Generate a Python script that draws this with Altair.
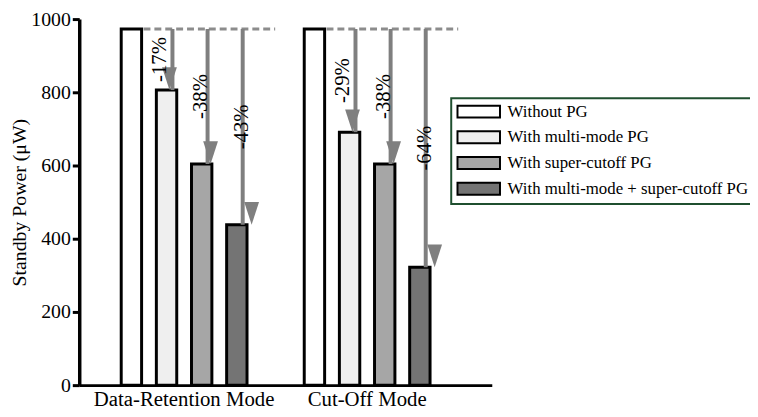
import altair as alt
import pandas as pd

groups = ["Data-Retention Mode", "Cut-Off Mode"]
series = ["Without PG", "With multi-mode PG", "With super-cutoff PG",
          "With multi-mode + super-cutoff PG"]
retention_values = [973, 806, 604, 438]
cutoff_values = [973, 691, 604, 322]
retention_labels = ["", "-17%", "-38%", "-43%"]
cutoff_labels = ["", "-29%", "-38%", "-64%"]
fill_colors = ["#ffffff", "#efefef", "#a6a6a6", "#747474"]

rows = []
for g, vals, labs in [(groups[0], retention_values, retention_labels),
                      (groups[1], cutoff_values, cutoff_labels)]:
    for s, v, l in zip(series, vals, labs):
        rows.append({"group": g, "series": s, "value": v, "base": vals[0], "label": l})
df = pd.DataFrame(rows)

FONT = "Liberation Serif"
ARROW = "#7f7f7f"

x_scale = alt.Scale(paddingInner=0.232, paddingOuter=0.243, align=0.389)
x_enc = alt.X("group:N", sort=groups, title=None, scale=x_scale,
              axis=alt.Axis(labelAngle=0, ticks=False, domainWidth=3, domainColor="black",
                            labelFont=FONT, labelFontSize=21, labelColor="black",
                            labelPadding=4, labelLimit=400))
off_scale = alt.Scale(domain=series, paddingInner=0.42, paddingOuter=0.21)
arrow_off_scale = alt.Scale(domain=series, paddingInner=0.42, paddingOuter=0.21,
                            range=[6, 148])
y_enc = alt.Y("value:Q", scale=alt.Scale(domain=[0, 1000], nice=False),
              axis=alt.Axis(values=[0, 200, 400, 600, 800, 1000], grid=False, format="d",
                            tickSize=7, tickWidth=3, tickColor="black",
                            domainWidth=3.5, domainColor="black",
                            labelFont=FONT, labelFontSize=20, labelColor="black",
                            labelPadding=2,
                            title="Standby Power (μW)", titleFont=FONT,
                            titleFontSize=20, titleFontWeight="normal",
                            titleColor="black", titlePadding=1))

bars = alt.Chart(df).mark_bar(stroke="black", strokeWidth=3).encode(
    x=x_enc,
    xOffset=alt.XOffset("series:N", sort=series, scale=off_scale),
    y=y_enc,
    fill=alt.Fill("series:N", sort=series,
                  scale=alt.Scale(domain=series, range=fill_colors),
                  legend=alt.Legend(title=None, orient="none", legendX=376, legendY=80,
                                    symbolType="M-1,-0.84L5,-0.84L5,0.84L-1,0.84Z",
                                    symbolSize=205, symbolStrokeColor="black",
                                    symbolStrokeWidth=2, labelFont=FONT,
                                    labelFontSize=17, labelColor="black",
                                    labelOffset=35, strokeColor="#1f4f2f",
                                    fillColor="white", padding=5, rowPadding=5,
                                    labelLimit=400)),
)

base_df = df[df["series"] == series[0]]
dashed = alt.Chart(base_df).mark_rule(
    strokeDash=[7, 4], strokeWidth=3, color="#8c8c8c", xOffset=30, x2Offset=21
).encode(
    x=alt.X("group:N", sort=groups, bandPosition=0),
    x2=alt.X2("group:N", bandPosition=1),
    y=alt.Y("base:Q"),
)

arrow_df = df[df["series"] != series[0]]
shafts = alt.Chart(arrow_df).mark_rule(strokeWidth=4, color=ARROW).encode(
    x=alt.X("group:N", sort=groups),
    xOffset=alt.XOffset("series:N", sort=series, scale=arrow_off_scale),
    y=alt.Y("base:Q"),
    y2=alt.Y2("value:Q"),
)
heads = alt.Chart(arrow_df).mark_point(
    shape="M-0.65,-2L0.65,-2L0,0Z", size=529, filled=True, color=ARROW, opacity=1
).encode(
    x=alt.X("group:N", sort=groups),
    xOffset=alt.XOffset("series:N", sort=series, scale=arrow_off_scale),
    y=alt.Y("value:Q"),
)

labels = alt.Chart(arrow_df).transform_calculate(
    mid="(datum.base + datum.value) / 2"
).mark_text(angle=270, font=FONT, fontSize=21, color="black", dy=-4,
            align="center", baseline="middle").encode(
    x=alt.X("group:N", sort=groups),
    xOffset=alt.XOffset("series:N", sort=series, scale=off_scale),
    y=alt.Y("mid:Q"),
    text="label:N",
)

chart = alt.layer(bars, dashed, shafts, heads, labels).resolve_scale(
    xOffset="independent"
).properties(
    width=417, height=370,
    autosize=alt.AutoSizeParams(type="none"),
    padding={"left": 72, "top": 9, "right": 261, "bottom": 30},
).configure_view(stroke=None).configure_legend(strokeWidth=2)

chart.save("out.html", embed_options={"renderer": "svg", "actions": False})
